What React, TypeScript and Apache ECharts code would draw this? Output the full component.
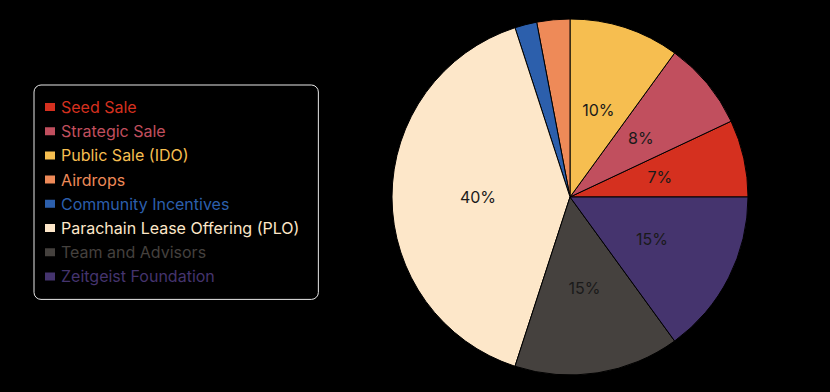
import React, { useEffect, useRef } from "react";
import * as echarts from "echarts";

const categories = [
  "Seed Sale",
  "Strategic Sale",
  "Public Sale (IDO)",
  "Airdrops",
  "Community Incentives",
  "Parachain Lease Offering (PLO)",
  "Team and Advisors",
  "Zeitgeist Foundation",
];
const shares = [7, 8, 10, 3, 2, 40, 15, 15];
const colors = [
  "#d5301f",
  "#c14f5e",
  "#f6be50",
  "#ee8a58",
  "#2c5fac",
  "#fde7c9",
  "#45413e",
  "#45346e",
];

export default function App() {
  const ref = useRef<HTMLDivElement>(null);
  useEffect(() => {
    if (!ref.current) return;
    const chart = echarts.init(ref.current, undefined, { renderer: "svg" });
    chart.setOption({
      animation: false,
      backgroundColor: "#000",
      color: colors,
      legend: {
        orient: "vertical",
        left: 34,
        top: 85,
        padding: [12, 19, 13, 9],
        backgroundColor: "#000",
        borderColor: "#e8e8e8",
        borderWidth: 1,
        borderRadius: 7,
        itemWidth: 12,
        itemHeight: 10,
        itemGap: 4.2,
        icon: "rect",
        data: categories.map((name, i) => ({
          name,
          textStyle: { color: colors[i] },
        })),
        textStyle: {
          fontFamily: "Inter",
          fontSize: 16,
          lineHeight: 20,
        },
      },
      series: [
        {
          type: "pie",
          center: [570, 197],
          radius: 178,
          startAngle: 0,
          clockwise: false,
          avoidLabelOverlap: false,
          itemStyle: { borderColor: "#000", borderWidth: 1 },
          label: {
            show: true,
            position: "inside",
            formatter: (p: any) => (p.value >= 5 ? p.value + "%" : ""),
            color: "#1a1a1a",
            fontFamily: "Inter",
            fontSize: 16,
          },
          labelLine: { show: false },
          emphasis: { disabled: true },
          data: categories.map((name, i) => ({ name, value: shares[i] })),
        },
      ],
    });
    return () => chart.dispose();
  }, []);
  return (
    <div
      ref={ref}
      style={{ position: "fixed", left: 0, top: 0, width: 830, height: 392 }}
    />
  );
}
